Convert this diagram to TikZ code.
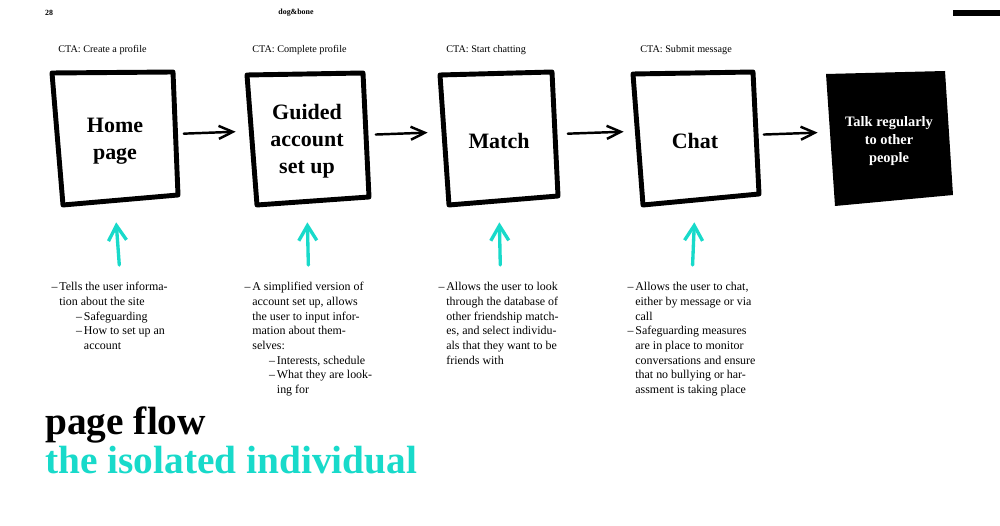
\documentclass[tikz,border=0pt]{standalone}
\usepackage{fontspec}
\setmainfont{Liberation Serif}
\usepackage{xcolor}
\usetikzlibrary{positioning}
\usetikzlibrary{arrows.meta}

\definecolor{mint}{RGB}{24,218,202}

\begin{document}
\begin{tikzpicture}[x=0.02cm, y=-0.02cm]
	\tikzstyle{screen} = [minimum width=2.4cm, minimum height=2.6cm, inner sep=0pt, align=center, font=\fontsize{12.5}{15.5}\selectfont\bfseries]
	\tikzstyle{sketch} = [line width=2.8pt, line join=round, line cap=round]
	\tikzstyle{cta} = [anchor=base west, inner sep=0pt, font=\fontsize{5.8}{7}\selectfont]
	\tikzstyle{note} = [anchor=north west, inner sep=0pt, align=left, font=\fontsize{6.8}{8.37}\selectfont]
	\tikzstyle{flow} = [draw, line width=1.4pt, line cap=round, -{Straight Barb[length=0.28cm, width=0.26cm]}, shorten <=0.17cm, shorten >=0.22cm]
	\tikzstyle{hint} = [draw, mint, line width=1.9pt, line cap=round, -{Straight Barb[length=0.3cm, width=0.36cm]}, shorten <=0.34cm, shorten >=0.32cm]
	\tikzstyle{heading} = [anchor=base west, inner sep=0pt, font=\fontsize{22.4}{24}\selectfont\bfseries]
	
	\fill [white] (0,0) rectangle (1000,526);
	\useasboundingbox (0,0) rectangle (1000,526);
	
	% page header
	\node [inner sep=0pt, font=\fontsize{4.5}{5}\selectfont\bfseries] (num) at (49,13) {28};
	\node [inner sep=0pt, font=\fontsize{4.5}{5}\selectfont\bfseries] (brand) at (296,13) {dog\&bone};
	\fill (953,10) rectangle (1000,16);
	
	\node [cta] (cta1) at (58,53) {CTA: Create a profile};
	\node [cta] (cta2) at (252,53) {CTA: Complete profile};
	\node [cta] (cta3) at (446,53) {CTA: Start chatting};
	\node [cta] (cta4) at (640,53) {CTA: Submit message};
	
	% hand drawn frames
	\draw [sketch] (52,73) -- (173,72) -- (178,195) -- (63,205) -- cycle;
	\draw [sketch] (247,75) -- (363,73) -- (369,197) -- (257,205) -- cycle;
	\draw [sketch] (440,75) -- (552,72) -- (558,196) -- (449,205) -- cycle;
	\draw [sketch] (633,74) -- (753,72) -- (759,194) -- (643,205) -- cycle;
	\fill (826,74) -- (945,71) -- (953,195) -- (835,206) -- cycle;
	
	\node [screen] (home) at (115,141) {Home\\page};
	\node [screen] (guided) at (307,141) {Guided\\account\\set up};
	\node [screen] (match) at (499,141) {Match};
	\node [screen] (chat) at (695,141) {Chat};
	\node [screen, text=white, font=\fontsize{8.2}{10}\selectfont\bfseries] (talk) at (889,141) {Talk regularly\\to other\\people};
	
	\path [flow] ([yshift=4pt]home.east) -- ([yshift=5.5pt]guided.west);
	\path [flow] ([yshift=3.5pt]guided.east) -- ([yshift=5pt]match.west);
	\path [flow] ([yshift=4pt]match.east) -- ([yshift=5.5pt]chat.west);
	\path [flow] ([yshift=3.5pt]chat.east) -- ([yshift=5pt]talk.west);
	
	% descriptions
	\node [note] (home-note) at (59,282) {\llap{--\kern1pt}Tells the user informa-\\tion about the site\\\hspace*{14pt}\llap{--\kern1pt}Safeguarding\\\hspace*{14pt}\llap{--\kern1pt}How to set up an\\\hspace*{14pt}account};
	\node [note] (guided-note) at (252,282) {\llap{--\kern1pt}A simplified version of\\account set up, allows\\the user to input infor-\\mation about them-\\selves:\\\hspace*{14pt}\llap{--\kern1pt}Interests, schedule\\\hspace*{14pt}\llap{--\kern1pt}What they are look-\\\hspace*{14pt}ing for};
	\node [note] (match-note) at (446,282) {\llap{--\kern1pt}Allows the user to look\\through the database of\\other friendship match-\\es, and select individu-\\als that they want to be\\friends with};
	\node [note] (chat-note) at (635,282) {\llap{--\kern1pt}Allows the user to chat,\\either by message or via\\call\\\llap{--\kern1pt}Safeguarding measures\\are in place to monitor\\conversations and ensure\\that no bullying or har-\\assment is taking place};
	
	\path [hint] ([xshift=4pt]home-note.north) -- (home.south);
	\path [hint] ([xshift=-2pt]guided-note.north) -- (guided.south);
	\path [hint] ([xshift=-1pt]match-note.north) -- (match.south);
	\path [hint] ([xshift=-2pt]chat-note.north) -- (chat.south);
	
	\node [heading] (title) at (45,435) {page flow};
	\node [heading, text=mint] (subtitle) at (45,473) {the isolated individual};
\end{tikzpicture}
\end{document}
